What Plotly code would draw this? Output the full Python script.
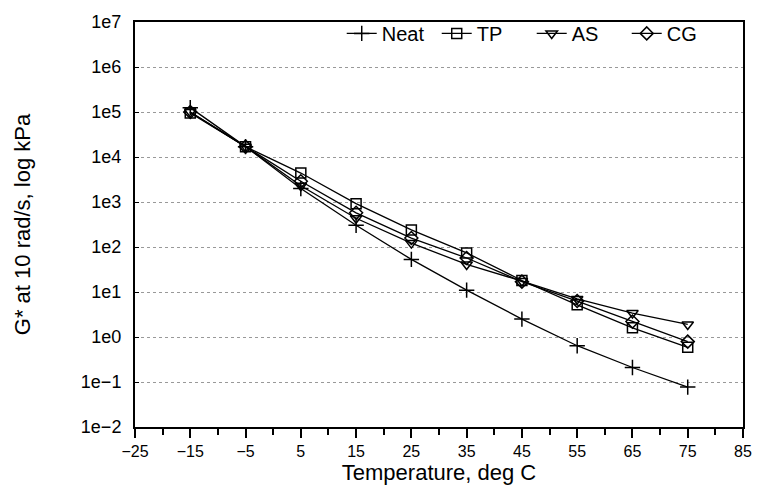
import plotly.graph_objects as go

temps = [-15, -5, 5, 15, 25, 35, 45, 55, 65, 75]
neat = [1.25e5, 1.7e4, 2.0e3, 305, 53, 11, 2.5, 0.64, 0.21, 0.077]
tp = [9.5e4, 1.7e4, 4.4e3, 920, 240, 74, 18, 5.2, 1.6, 0.59]
as_ = [1.0e5, 1.7e4, 2.3e3, 435, 122, 41, 17.5, 7.0, 3.4, 1.9]
cg = [1.0e5, 1.7e4, 2.9e3, 575, 158, 57, 17, 6.3, 2.2, 0.79]

series_names = ["Neat", "TP", "AS", "CG"]
series_vals = [neat, tp, as_, cg]
symbols = ["cross-thin-open", "square-open", "triangle-down-open", "diamond-open"]
sizes = [11, 10, 10, 10]

y_tickvals = [1e-2, 1e-1, 1e0, 1e1, 1e2, 1e3, 1e4, 1e5, 1e6, 1e7]
y_ticktext = ["1e\u22122", "1e\u22121", "1e0", "1e1", "1e2", "1e3", "1e4", "1e5", "1e6", "1e7"]
x_tickvals = [-25, -15, -5, 5, 15, 25, 35, 45, 55, 65, 75, 85]
x_ticktext = ["\u221225", "\u221215", "\u22125", "5", "15", "25", "35", "45", "55", "65", "75", "85"]

FONT = "Liberation Sans, Arial, sans-serif"

fig = go.Figure()
for name, vals, sym, sz in zip(series_names, series_vals, symbols, sizes):
    fig.add_trace(go.Scatter(
        x=temps, y=vals, name=name, mode="lines+markers",
        line=dict(color="black", width=1.3),
        marker=dict(symbol=sym, size=sz, color="black",
                    line=dict(color="black", width=1.5)),
    ))

fig.update_layout(
    width=764, height=493,
    margin=dict(l=135, r=16, t=16, b=66),
    paper_bgcolor="white", plot_bgcolor="white",
    font=dict(family=FONT, size=16, color="black"),
    showlegend=True,
    legend=dict(orientation="h", x=0.34, y=1.02, xanchor="left", yanchor="top",
                bgcolor="rgba(0,0,0,0)", font=dict(size=20),
                entrywidth=50, entrywidthmode="pixels"),
)
fig.update_xaxes(
    range=[-25, 85], tickvals=x_tickvals, ticktext=x_ticktext,
    ticks="outside", ticklen=9, tickwidth=1.5, tickcolor="black",
    minor=dict(dtick=10, tick0=-20, ticks="outside", ticklen=6, tickwidth=1.5, tickcolor="black"),
    showgrid=False, zeroline=False,
    showline=True, linecolor="black", linewidth=2, mirror=True,
    title=dict(text="Temperature, deg C", font=dict(size=22), standoff=4),
    tickfont=dict(size=16),
)
fig.update_yaxes(
    type="log", range=[-2, 7], tickvals=y_tickvals, ticktext=y_ticktext,
    ticks="inside", ticklen=4, tickcolor="black", ticklabelstandoff=8,
    showgrid=True, gridcolor="#999999", griddash="dot", gridwidth=1,
    zeroline=False,
    showline=True, linecolor="black", linewidth=2, mirror=True,
    title=dict(text="G* at 10 rad/s, log kPa", font=dict(size=22), standoff=44),
    tickfont=dict(size=18),
)

fig.write_html("out.html")
